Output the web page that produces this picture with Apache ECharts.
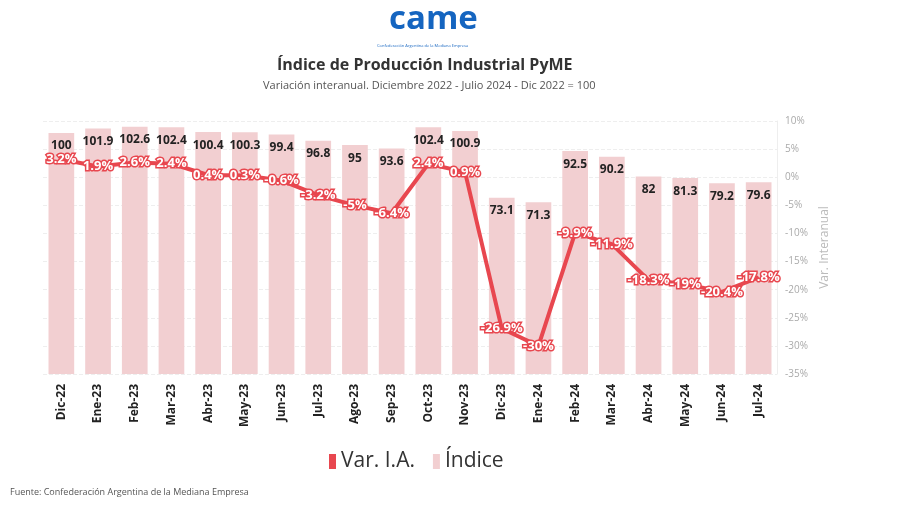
<!DOCTYPE html>
<html><head><meta charset="utf-8">
<script src="https://cdn.jsdelivr.net/npm/echarts@6/dist/echarts.min.js"></script>
<style>html,body{margin:0;padding:0;background:#fff}#c{width:900px;height:505px}</style>
</head><body><div id="c"></div>
<script>
const cats = ['Dic-22','Ene-23','Feb-23','Mar-23','Abr-23','May-23','Jun-23','Jul-23','Ago-23','Sep-23','Oct-23','Nov-23','Dic-23','Ene-24','Feb-24','Mar-24','Abr-24','May-24','Jun-24','Jul-24'];
const indice = [100,101.9,102.6,102.4,100.4,100.3,99.4,96.8,95,93.6,102.4,100.9,73.1,71.3,92.5,90.2,82,81.3,79.2,79.6];
const varIA = [3.2,1.9,2.6,2.4,0.4,0.3,-0.6,-3.2,-5,-6.4,2.4,0.9,-26.9,-30,-9.9,-11.9,-18.3,-19,-20.4,-17.8];

const chart = echarts.init(document.getElementById('c'));
chart.setOption({
  animation:false,
  textStyle:{fontFamily:'Open Sans'},
  graphic:[
    {type:'text',left:389,top:3,style:{text:'came',font:'bold 33px "Open Sans"',fill:'#1565c0'}},
    {type:'text',left:377,top:44,style:{text:'Confederación Argentina de la Mediana Empresa',font:'4px "Open Sans"',fill:'#1565c0'}},
    {type:'text',left:277,top:57,style:{text:'Índice de Producción Industrial PyME',font:'bold 16px "Open Sans"',fill:'#333'}},
    {type:'text',left:263,top:80,style:{text:'Variación interanual. Diciembre 2022 - Julio 2024 - Dic 2022 = 100',font:'11px "Open Sans"',fill:'#555'}},
    {type:'text',left:10,top:488,style:{text:'Fuente: Confederación Argentina de la Mediana Empresa',font:'9px "Open Sans"',fill:'#555'}}
  ],
  legend:{
    data:['Var. I.A.','Índice'],
    left:324,top:446,
    itemWidth:7,itemHeight:15,itemGap:18,
    textStyle:{fontSize:21,color:'#333'},
    icon:'rect'
  },
  grid:{left:43,right:123,top:121,bottom:131},
  xAxis:{
    type:'category',data:cats,
    axisLine:{show:false},axisTick:{show:false},
    axisLabel:{rotate:90,fontWeight:'bold',fontSize:12,color:'#222',margin:10}
  },
  yAxis:[
    {type:'value',min:0,max:105,show:false,splitLine:{show:false}},
    {type:'value',position:'right',min:-35,max:10,interval:5,
     name:'Var. Interanual',nameLocation:'middle',nameGap:36,nameRotate:90,
     nameTextStyle:{color:'#bbb',fontSize:12},
     axisLine:{show:true,lineStyle:{color:'#eee'}},
     axisTick:{show:false},
     axisLabel:{formatter:'{value}%',color:'#aaa',fontSize:10},
     splitLine:{show:true,lineStyle:{color:'#eee',type:'dashed'}}}
  ],
  series:[
    {name:'Índice',type:'bar',yAxisIndex:0,data:indice,barWidth:'70%',
     itemStyle:{color:'#f2cfd1'},z:2,
     label:{show:true,position:'insideTop',distance:7,color:'#222',fontWeight:'bold',fontSize:12}},
    {name:'Var. I.A.',type:'line',yAxisIndex:1,data:varIA,
     symbol:'circle',symbolSize:1,showSymbol:true,
     lineStyle:{width:4,color:'#e8474f'},itemStyle:{color:'#e8474f'},z:5,
     label:{show:true,position:'inside',formatter:'{c}%',color:'#fff',fontWeight:'bold',fontSize:13,
       textBorderColor:'#e8474f',textBorderWidth:3}}
  ]
});
</script>
</body></html>
